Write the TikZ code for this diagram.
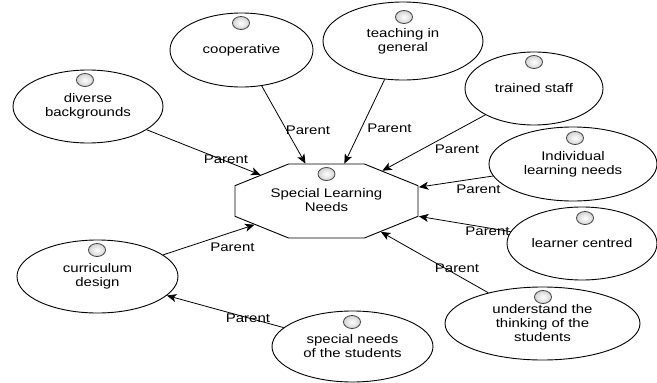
\documentclass[tikz,border=0pt]{standalone}
\usepackage{fontspec}
\setmainfont[FakeStretch=1.2]{Liberation Sans}
\usetikzlibrary{shapes.geometric,arrows.meta}
\tikzset{
  usecase/.style={ellipse, draw=black, line width=0.9pt, fill=white, inner sep=0pt,
    align=center, font=\fontsize{12.5}{14}\selectfont},
  % octagon: a regular one, stretched to 183 x 74
  goal/.style={regular polygon, regular polygon sides=8, draw=black, line width=0.9pt,
    fill=white, inner sep=0pt, minimum size=100pt, transform shape,
    xscale=1.9808, yscale=0.8010},
  goaltext/.style={align=center, font=\fontsize{12.5}{14}\selectfont, inner sep=0pt},
  parentlink/.style={line width=0.8pt, -{Stealth[length=9.5pt,width=8pt,inset=2.5pt]}},
  linklabel/.style={font=\fontsize{12.5}{14}\selectfont, inner sep=0pt},
}
% small shaded ball drawn above each element's text
\newcommand{\knob}[1]{%
  \shade[inner color=white, outer color=gray!35] (#1) ellipse [x radius=8.5pt, y radius=6.5pt];
  \draw[black!75, line width=0.8pt] (#1) ellipse [x radius=8.5pt, y radius=6.5pt];}
\begin{document}
\begin{tikzpicture}[x=1pt, y=-1pt]
\useasboundingbox (0,0) rectangle (657,383);

% central goal
\begin{scope}[shift={(326.5,201)}]
  \node[goal] (sln) at (0,0) {};
\end{scope}
\node[goaltext] (slntext) at (326.5,200) {Special Learning\\Needs};

% surrounding use cases
\node[usecase, minimum width=150pt, minimum height=73pt] (div) at (88,106.5) {diverse\\backgrounds};
\node[usecase, minimum width=143pt, minimum height=74pt] (coop) at (241.5,50) {cooperative};
\node[usecase, minimum width=160pt, minimum height=78pt] (teach) at (403,41) {teaching in\\general};
\node[usecase, minimum width=138pt, minimum height=73pt] (staff) at (534,88.5) {trained staff};
\node[usecase, minimum width=168pt, minimum height=74pt] (indiv) at (573,164) {Individual\\learning needs};
\node[usecase, minimum width=150pt, minimum height=73pt] (learner) at (582,243.5) {learner centred};
\node[usecase, minimum width=195pt, minimum height=73pt] (think) at (542.5,323.5) {understand the\\thinking of the\\students};
\node[usecase, minimum width=161pt, minimum height=71pt] (special) at (352.5,346.5) {special needs\\of the students};
\node[usecase, minimum width=161pt, minimum height=73pt] (curric) at (97.5,276.5) {curriculum\\design};

% knobs
\knob{326.5,174}
\knob{85,80}
\knob{241,23}
\knob{404,17}
\knob{534,62}
\knob{575,138}
\knob{585,218}
\knob{543,297}
\knob{352,322}
\knob{97,250}

% parent links
\draw[parentlink] (div) -- (sln);
\draw[parentlink] (coop) -- (sln);
\draw[parentlink] (teach) -- (sln);
\draw[parentlink] (staff) -- (sln);
\draw[parentlink] (indiv) -- (sln);
\draw[parentlink] (learner) -- (sln);
\draw[parentlink] (think) -- (sln);
\draw[parentlink] (curric) -- (sln);
\draw[parentlink] (special) -- (curric);

% link labels
\node[linklabel] (l1) at (226,159) {Parent};
\node[linklabel] (l2) at (308,130) {Parent};
\node[linklabel] (l3) at (389.5,128) {Parent};
\node[linklabel] (l4) at (457,149) {Parent};
\node[linklabel] (l5) at (478.5,189) {Parent};
\node[linklabel] (l6) at (487.5,231) {Parent};
\node[linklabel] (l7) at (457,268) {Parent};
\node[linklabel] (l8) at (232.5,247) {Parent};
\node[linklabel] (l9) at (248,318) {Parent};
\end{tikzpicture}
\end{document}
